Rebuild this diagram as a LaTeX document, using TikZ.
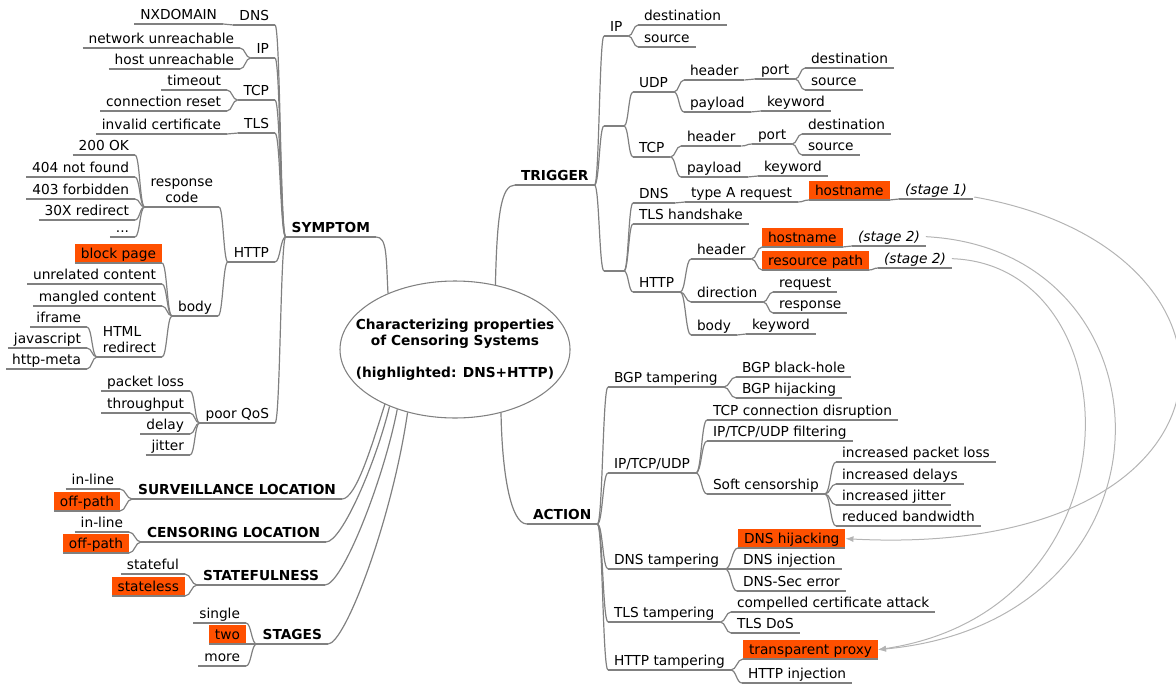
\documentclass[tikz,border=0pt]{standalone}
\usepackage{fontspec}
\setmainfont{DejaVu Sans}[ItalicFont={DejaVu Sans Oblique},BoldFont={DejaVu Sans Bold},BoldItalicFont={DejaVu Sans Bold Oblique}]
\usetikzlibrary{shapes.geometric,arrows.meta,calc}
\definecolor{edgegray}{HTML}{808080}
\definecolor{linkgray}{HTML}{B4B4B4}
\definecolor{hlorange}{HTML}{FF5000}
\newcommand\rlnk[2]{\draw[cn] let \p1=(#1.south east), \p2=(#2.south west) in (\p1) .. controls ({(\x1+\x2)/2},\y1) and ({(\x1+\x2)/2},\y2) .. (\p2);}
\newcommand\llnk[2]{\draw[cn] let \p1=(#1.south west), \p2=(#2.south east) in (\p1) .. controls ({(\x1+\x2)/2},\y1) and ({(\x1+\x2)/2},\y2) .. (\p2);}
\tikzset{
  cn/.style={draw=edgegray, line width=0.9pt},
  nb/.style={inner xsep=4.5pt, outer sep=0pt, font=\fontsize{10.3}{12}\selectfont,
    append after command={(\tikzlastnode.south west) edge[cn] (\tikzlastnode.south east)}},
  sln/.style={nb, text height=9.5pt, text depth=2.3pt, inner ysep=1.1pt},
  rnode/.style={sln, anchor=south west},
  lnode/.style={sln, anchor=south east},
  mln/.style={nb, inner ysep=3.6pt},
  bfn/.style={font=\fontsize{10.3}{12}\selectfont\bfseries},
  itn/.style={font=\fontsize{10.3}{12}\selectfont\itshape},
  hlt/.style={fill=hlorange},
  xlink/.style={draw=linkgray, line width=0.75pt, -{Latex[length=6pt,width=4.5pt]}},
  rootshape/.style={ellipse, draw=edgegray, line width=0.8pt, minimum width=172.5pt, minimum height=102.75pt, inner sep=0pt},
  roottext/.style={font=\fontsize{10.3}{12}\selectfont\bfseries, align=center, inner sep=0pt},
}
\begin{document}
\begin{tikzpicture}[x=0.75pt,y=-0.75pt]
\useasboundingbox (0,0) rectangle (1176,685);
% root
\node[rootshape] (root) at (455,349.5) {};
\node[roottext] (rtxt) at (root.center) {Characterizing properties\\of Censoring Systems\\[12pt](highlighted: DNS+HTTP)};
% main branches
\node[lnode,bfn] (sym) at (376,237) {SYMPTOM};
\node[lnode,bfn] (sur) at (342,499) {SURVEILLANCE LOCATION};
\node[lnode,bfn] (cen) at (326,542) {CENSORING LOCATION};
\node[lnode,bfn] (stf) at (325,585) {STATEFULNESS};
\node[lnode,bfn] (stg) at (328,644) {STAGES};
\node[rnode,bfn] (trig) at (515,185) {TRIGGER};
\node[rnode,bfn] (act) at (527,524) {ACTION};
% symptom
\node[lnode] (sdns) at (275,25) {DNS};
\node[lnode] (sip) at (275,58) {IP};
\node[lnode] (stcp) at (275,100) {TCP};
\node[lnode] (stls) at (275,133) {TLS};
\node[lnode] (shttp) at (275,262) {HTTP};
\node[lnode] (sqos) at (275,423) {poor QoS};
\node[lnode] (nxd) at (223,24) {NXDOMAIN};
\node[lnode] (ip1) at (240,48) {network unreachable};
\node[lnode] (ip2) at (240,69) {host unreachable};
\node[lnode] (tcp1) at (227,90) {timeout};
\node[lnode] (tcp2) at (227,111) {connection reset};
\node[lnode] (tls1) at (227,134) {invalid certificate};
\node[mln,anchor=south east,align=center] (rc) at (219,207) {response\\code};
\node[lnode] (body) at (218,316) {body};
\node[lnode] (rc1) at (135,155) {200 OK};
\node[lnode] (rc2) at (135,177) {404 not found};
\node[lnode] (rc3) at (135,199) {403 forbidden};
\node[lnode] (rc4) at (135,220) {30X redirect};
\node[lnode] (rc5) at (135,237) {...};
\node[lnode,hlt] (bp) at (162,263) {block page};
\node[lnode] (uc) at (162,284) {unrelated content};
\node[lnode] (mc) at (162,306) {mangled content};
\node[mln,anchor=south east,align=left] (hr) at (162,357) {HTML\\redirect};
\node[lnode] (ifr) at (87,327) {iframe};
\node[lnode] (js) at (87,348) {javascript};
\node[lnode] (hm) at (87,369) {http-meta};
\node[lnode] (pl) at (190,391) {packet loss};
\node[lnode] (tput) at (190,413) {throughput};
\node[lnode] (dl) at (190,434) {delay};
\node[lnode] (jt) at (190,455) {jitter};
% locations, state, stages
\node[lnode] (sur1) at (120,489) {in-line};
\node[lnode,hlt] (sur2) at (120,511) {off-path};
\node[lnode] (cen1) at (129,532) {in-line};
\node[lnode,hlt] (cen2) at (129,553) {off-path};
\node[lnode] (stf1) at (185,574) {stateful};
\node[lnode,hlt] (stf2) at (185,596) {stateless};
\node[lnode] (stg1) at (246,623) {single};
\node[lnode,hlt] (stg2) at (246,644) {two};
\node[lnode] (stg3) at (246,666) {more};
% trigger
\node[rnode] (tip) at (604,36) {IP};
\node[rnode] (tip1) at (638,25) {destination};
\node[rnode] (tip2) at (638,47) {source};
\node[rnode,minimum width=15pt] (e1) at (604,126) {};
\node[rnode] (udp) at (633,92) {UDP};
\node[rnode] (tcp) at (633,157) {TCP};
\node[rnode] (uh) at (684,80) {header};
\node[rnode] (up) at (684,112) {payload};
\node[rnode] (uport) at (755,79) {port};
\node[rnode] (ud) at (805,68) {destination};
\node[rnode] (us) at (805,90) {source};
\node[rnode] (ukw) at (761,111) {keyword};
\node[rnode] (th) at (681,146) {header};
\node[rnode] (tpl) at (681,177) {payload};
\node[rnode] (tport) at (752,144) {port};
\node[rnode] (td) at (802,134) {destination};
\node[rnode] (ts) at (802,155) {source};
\node[rnode] (tkw) at (758,176) {keyword};
\node[rnode,minimum width=15pt] (e2) at (604,271) {};
\node[rnode] (tdns) at (633,203) {DNS};
\node[rnode] (ttls) at (633,224) {TLS handshake};
\node[rnode] (thttp) at (633,292) {HTTP};
\node[rnode] (tar) at (685,202) {type A request};
\node[rnode,hlt] (hn1) at (809,200) {hostname};
\node[rnode,itn] (st1) at (899,199) {(stage 1)};
\node[rnode] (hh) at (691,259) {header};
\node[rnode] (hd) at (691,302) {direction};
\node[rnode] (hb) at (691,335) {body};
\node[rnode,hlt] (hn2) at (762,247) {hostname};
\node[rnode,itn] (st2) at (852,246) {(stage 2)};
\node[rnode,hlt] (rp) at (762,270) {resource path};
\node[rnode,itn] (st3) at (878,268) {(stage 2)};
\node[rnode] (req) at (773,292) {request};
\node[rnode] (resp) at (773,313) {response};
\node[rnode] (hkw) at (746,334) {keyword};
% action
\node[rnode] (bgp) at (608,387) {BGP tampering};
\node[rnode] (iptu) at (608,473) {IP/TCP/UDP};
\node[rnode] (dnst) at (608,569) {DNS tampering};
\node[rnode] (tlst) at (608,622) {TLS tampering};
\node[rnode] (httpt) at (608,670) {HTTP tampering};
\node[rnode] (bh) at (736,377) {BGP black-hole};
\node[rnode] (bhj) at (736,398) {BGP hijacking};
\node[rnode] (tcd) at (707,420) {TCP connection disruption};
\node[rnode] (ipf) at (707,441) {IP/TCP/UDP filtering};
\node[rnode] (soft) at (707,494) {Soft censorship};
\node[rnode] (ipl) at (836,462) {increased packet loss};
\node[rnode] (idl) at (836,484) {increased delays};
\node[rnode] (ijt) at (836,505) {increased jitter};
\node[rnode] (rbw) at (836,526) {reduced bandwidth};
\node[rnode,hlt] (dhj) at (738,548) {DNS hijacking};
\node[rnode] (dinj) at (737,569) {DNS injection};
\node[rnode] (dsec) at (737,591) {DNS-Sec error};
\node[rnode] (cca) at (731,612) {compelled certificate attack};
\node[rnode] (tdos) at (731,633) {TLS DoS};
\node[rnode,hlt] (tpx) at (743,659) {transparent proxy};
\node[rnode] (hinj) at (742,683) {HTTP injection};
% root connectors
\draw[cn] (root.140) .. controls (386,255) and (387,237) .. (sym.south east);
\draw[cn] (root.58.8) .. controls (497,215) and (501,185) .. (trig.south west);
\draw[cn] (root.-54.5) .. controls (502,470) and (510,524) .. (act.south west);
\draw[cn] (root.218.7) .. controls (372,445) and (356,499) .. (sur.south east);
\draw[cn] (root.221.7) .. controls (376,462) and (342,542) .. (cen.south east);
\draw[cn] (root.226.5) .. controls (383,482) and (342,585) .. (stf.south east);
\draw[cn] (root.233.7) .. controls (392,520) and (345,644) .. (stg.south east);
% left connectors
\foreach \a/\b in {sym/sdns,sym/sip,sym/stcp,sym/stls,sym/shttp,sym/sqos,
  sdns/nxd,sip/ip1,sip/ip2,stcp/tcp1,stcp/tcp2,stls/tls1,shttp/rc,shttp/body,
  rc/rc1,rc/rc2,rc/rc3,rc/rc4,rc/rc5,body/bp,body/uc,body/mc,body/hr,hr/ifr,hr/js,hr/hm,
  sqos/pl,sqos/tput,sqos/dl,sqos/jt,sur/sur1,sur/sur2,cen/cen1,cen/cen2,stf/stf1,stf/stf2,
  stg/stg1,stg/stg2,stg/stg3}{\llnk{\a}{\b}}
% right connectors
\foreach \a/\b in {trig/tip,trig/e1,trig/e2,tip/tip1,tip/tip2,e1/udp,e1/tcp,udp/uh,udp/up,
  uh/uport,uport/ud,uport/us,up/ukw,tcp/th,tcp/tpl,th/tport,tport/td,tport/ts,tpl/tkw,
  e2/tdns,e2/ttls,e2/thttp,tdns/tar,tar/hn1,hn1/st1,thttp/hh,thttp/hd,thttp/hb,
  hh/hn2,hh/rp,hn2/st2,rp/st3,hd/req,hd/resp,hb/hkw,
  act/bgp,act/iptu,act/dnst,act/tlst,act/httpt,bgp/bh,bgp/bhj,iptu/tcd,iptu/ipf,iptu/soft,
  soft/ipl,soft/idl,soft/ijt,soft/rbw,dnst/dhj,dnst/dinj,dnst/dsec,tlst/cca,tlst/tdos,
  httpt/tpx,httpt/hinj}{\rlnk{\a}{\b}}
% arrow links
\draw[xlink] ([xshift=1pt,yshift=1.5pt]st1.south east) .. controls (1276,250) and (1256,560) .. (dhj.east);
\draw[xlink] (st2.east) .. controls (1180,250) and (1190,620) .. (tpx.east);
\draw[xlink] (st3.east) .. controls (1135,265) and (1145,610) .. (tpx.east);
\end{tikzpicture}
\end{document}
